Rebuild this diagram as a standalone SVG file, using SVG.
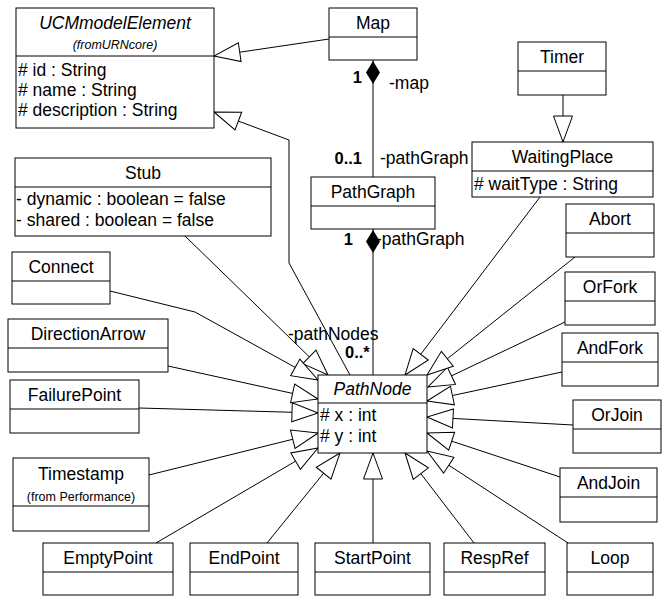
<svg xmlns="http://www.w3.org/2000/svg" width="663" height="597" viewBox="0 0 663 597">
<style>
.box{fill:#fff;stroke:#000;stroke-width:1}
.div{stroke:#000;stroke-width:1}
.ln{fill:none;stroke:#000;stroke-width:1}
text{font-family:"Liberation Sans",Arial,sans-serif;font-size:17.5px;fill:#000}
.t{text-anchor:middle}
.it{font-style:italic}
.sm{font-size:12.5px}
.b{font-weight:bold;font-size:16.5px}
.gen{marker-end:url(#tri)}
</style>
<defs>
<marker id="tri" viewBox="-28 -11 30 22" markerWidth="30" markerHeight="22" refX="0" refY="0" orient="auto" markerUnits="userSpaceOnUse">
<path d="M0,0 L-26,-9.5 L-26,9.5 Z" fill="#fff" stroke="#000" stroke-width="1"/>
</marker>
</defs>
<rect width="663" height="597" fill="#fff"/>
<g id="connectors">
<polyline class="ln gen" points="329,39 214,56"/>
<polyline class="ln gen" points="350,375 289,263 289,140 214,112"/>
<polyline class="ln gen" points="563,95 563,142"/>
<line class="ln" x1="373" y1="60" x2="373" y2="177"/>
<polygon points="373,61 380,72.5 373,84 366,72.5" fill="#000"/>
<line class="ln" x1="373" y1="229" x2="373" y2="375"/>
<polygon points="373,230 380,241.5 373,253 366,241.5" fill="#000"/>
<polyline class="ln gen" points="185,236 328,375"/>
<polyline class="ln gen" points="110,291 195,312 318,380"/>
<polyline class="ln gen" points="168,366 318,399"/>
<polyline class="ln gen" points="139,408 318,413"/>
<polyline class="ln gen" points="149,475 318,433"/>
<polyline class="ln gen" points="156,543 318,448"/>
<polyline class="ln gen" points="267,543 340,453"/>
<polyline class="ln gen" points="373,543 373,453"/>
<polyline class="ln gen" points="474,543 405,453"/>
<polyline class="ln gen" points="568,543 427,451"/>
<polyline class="ln gen" points="560,477 427,433"/>
<polyline class="ln gen" points="573,425 427,417"/>
<polyline class="ln gen" points="562,372 427,401"/>
<polyline class="ln gen" points="565,322 428,387"/>
<polyline class="ln gen" points="575,257 427,375"/>
<polyline class="ln gen" points="540,197 405,375"/>
<text x="362" y="83" class="b" text-anchor="end">1</text>
<text x="389" y="89">-map</text>
<text x="362" y="164" class="b" text-anchor="end">0..1</text>
<text x="380" y="164">-pathGraph</text>
<text x="353" y="245" class="b" text-anchor="end">1</text>
<text x="376" y="245">-pathGraph</text>
<text x="288" y="340">-pathNodes</text>
<text x="345" y="358" class="b">0..*</text>
</g>
<g id="UCMmodelElement">
<rect class="box" x="16" y="8" width="198" height="120"/>
<line class="div" x1="16" y1="56" x2="214" y2="56"/>
<text x="115" y="29" class="t it">UCMmodelElement</text>
<text x="115" y="49" class="t it sm">(fromURNcore)</text>
<text x="18" y="76"># id : String</text>
<text x="18" y="96"># name : String</text>
<text x="18" y="116"># description : String</text>
</g>
<g id="Map">
<rect class="box" x="329" y="8" width="88" height="52"/>
<line class="div" x1="329" y1="37" x2="417" y2="37"/>
<text x="373" y="28.5" class="t">Map</text>
</g>
<g id="Timer">
<rect class="box" x="518" y="42" width="88" height="53"/>
<line class="div" x1="518" y1="71" x2="606" y2="71"/>
<text x="562" y="62.5" class="t">Timer</text>
</g>
<g id="WaitingPlace">
<rect class="box" x="472" y="142" width="181" height="55"/>
<line class="div" x1="472" y1="171" x2="653" y2="171"/>
<text x="562.5" y="162.5" class="t">WaitingPlace</text>
<text x="474" y="190"># waitType : String</text>
</g>
<g id="Stub">
<rect class="box" x="15" y="158" width="256" height="78"/>
<line class="div" x1="15" y1="187" x2="271" y2="187"/>
<text x="143" y="178.5" class="t">Stub</text>
<text x="16" y="205">- dynamic : boolean = false</text>
<text x="16" y="226">- shared : boolean = false</text>
</g>
<g id="PathGraph">
<rect class="box" x="311" y="177" width="124" height="52"/>
<line class="div" x1="311" y1="206" x2="435" y2="206"/>
<text x="373" y="197.5" class="t">PathGraph</text>
</g>
<g id="Abort">
<rect class="box" x="566" y="204" width="88" height="53"/>
<line class="div" x1="566" y1="233" x2="654" y2="233"/>
<text x="610" y="224.5" class="t">Abort</text>
</g>
<g id="Connect">
<rect class="box" x="12" y="252" width="98" height="52"/>
<line class="div" x1="12" y1="281" x2="110" y2="281"/>
<text x="61" y="272.5" class="t">Connect</text>
</g>
<g id="OrFork">
<rect class="box" x="565" y="272" width="90" height="53"/>
<line class="div" x1="565" y1="301" x2="655" y2="301"/>
<text x="610" y="292.5" class="t">OrFork</text>
</g>
<g id="DirectionArrow">
<rect class="box" x="8" y="319" width="160" height="53"/>
<line class="div" x1="8" y1="348" x2="168" y2="348"/>
<text x="88" y="339.5" class="t">DirectionArrow</text>
</g>
<g id="AndFork">
<rect class="box" x="562" y="333" width="96" height="53"/>
<line class="div" x1="562" y1="362" x2="658" y2="362"/>
<text x="610" y="353.5" class="t">AndFork</text>
</g>
<g id="PathNode">
<rect class="box" x="318" y="375" width="109" height="78"/>
<line class="div" x1="318" y1="403" x2="427" y2="403"/>
<text x="372.5" y="395" class="t it">PathNode</text>
<text x="320" y="421"># x : int</text>
<text x="320" y="442"># y : int</text>
</g>
<g id="FailurePoint">
<rect class="box" x="10" y="380" width="129" height="53"/>
<line class="div" x1="10" y1="409" x2="139" y2="409"/>
<text x="74.5" y="400.5" class="t">FailurePoint</text>
</g>
<g id="OrJoin">
<rect class="box" x="573" y="400" width="88" height="53"/>
<line class="div" x1="573" y1="429" x2="661" y2="429"/>
<text x="617" y="420.5" class="t">OrJoin</text>
</g>
<g id="Timestamp">
<rect class="box" x="13" y="458" width="136" height="73"/>
<line class="div" x1="13" y1="506" x2="149" y2="506"/>
<text x="81" y="480" class="t">Timestamp</text>
<text x="81" y="501" class="t sm">(from Performance)</text>
</g>
<g id="AndJoin">
<rect class="box" x="560" y="468" width="97" height="54"/>
<line class="div" x1="560" y1="497" x2="657" y2="497"/>
<text x="608.5" y="488.5" class="t">AndJoin</text>
</g>
<g id="EmptyPoint">
<rect class="box" x="43" y="543" width="130" height="52"/>
<line class="div" x1="43" y1="572" x2="173" y2="572"/>
<text x="108" y="563.5" class="t">EmptyPoint</text>
</g>
<g id="EndPoint">
<rect class="box" x="190" y="543" width="108" height="52"/>
<line class="div" x1="190" y1="572" x2="298" y2="572"/>
<text x="244" y="563.5" class="t">EndPoint</text>
</g>
<g id="StartPoint">
<rect class="box" x="315" y="543" width="115" height="52"/>
<line class="div" x1="315" y1="572" x2="430" y2="572"/>
<text x="372.5" y="563.5" class="t">StartPoint</text>
</g>
<g id="RespRef">
<rect class="box" x="444" y="543" width="101" height="52"/>
<line class="div" x1="444" y1="572" x2="545" y2="572"/>
<text x="494.5" y="563.5" class="t">RespRef</text>
</g>
<g id="Loop">
<rect class="box" x="567" y="543" width="86" height="52"/>
<line class="div" x1="567" y1="572" x2="653" y2="572"/>
<text x="610" y="563.5" class="t">Loop</text>
</g>
</svg>
